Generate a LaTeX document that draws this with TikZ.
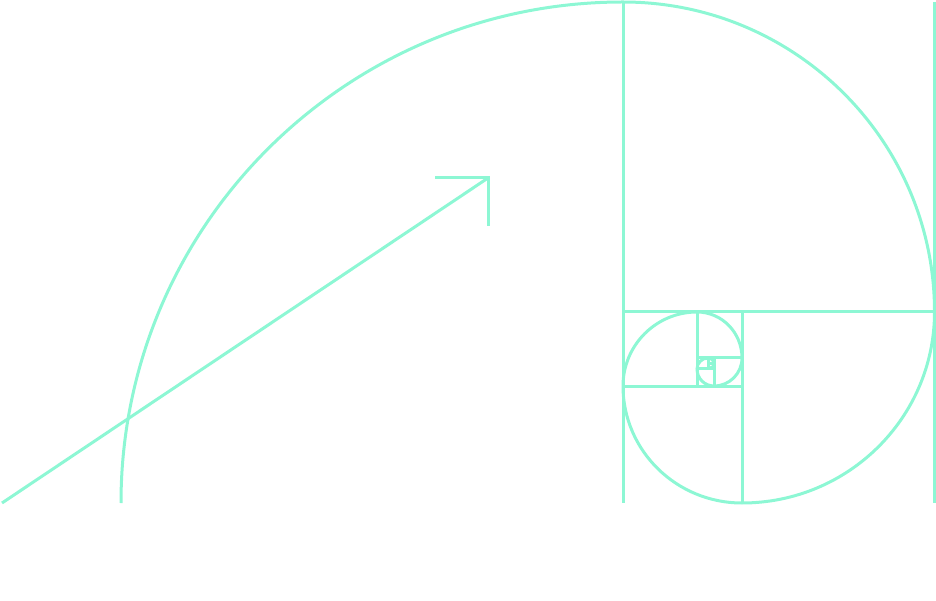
\documentclass[tikz,border=0pt]{standalone}
\definecolor{mint}{HTML}{8DF7D4}
\begin{document}
\begin{tikzpicture}[x=1pt,y=1pt,
  ln/.style={draw=mint,line width=3pt,line cap=butt,line join=miter}]
\useasboundingbox (0,0) rectangle (936,600);
% arrow
\coordinate (tail) at (2,97);
\coordinate (tip) at (488,422);
\coordinate (hl) at (435,422);
\coordinate (hd) at (488,374);
\draw[ln] (tail) -- (tip);
\draw[ln] (hl) -- (tip) -- (hd);
% square grid
\draw[ln] (623,598) -- (623,97);
\draw[ln] (934.5,598) -- (934.5,97);
\draw[ln] (623,288) -- (934.5,288);
\draw[ln] (742,288) -- (742,97);
\draw[ln] (623,214) -- (742,214);
\draw[ln] (697,288) -- (697,214);
\draw[ln] (697,242) -- (742,242);
\draw[ln] (714,242) -- (714,214);
\draw[ln] (697,231) -- (714,231);
\draw[ln] (708,242) -- (708,231);
\draw[ln] (708,236) -- (714,236);
% spiral
\draw[ln] (121,97)
  arc[start angle=180,end angle=90,x radius=502pt,y radius=501pt]
  arc[start angle=90,end angle=0,x radius=311.5pt,y radius=310pt]
  arc[start angle=0,end angle=-90,x radius=192.5pt,y radius=191pt]
  arc[start angle=-90,end angle=-180,x radius=119pt,y radius=117pt]
  arc[start angle=180,end angle=90,radius=74pt]
  arc[start angle=90,end angle=0,x radius=45pt,y radius=46pt]
  arc[start angle=0,end angle=-90,radius=28pt]
  arc[start angle=-90,end angle=-180,radius=17pt]
  arc[start angle=180,end angle=90,radius=11pt]
  arc[start angle=90,end angle=0,radius=6pt]
  arc[start angle=0,end angle=-90,radius=4pt];
\end{tikzpicture}
\end{document}
